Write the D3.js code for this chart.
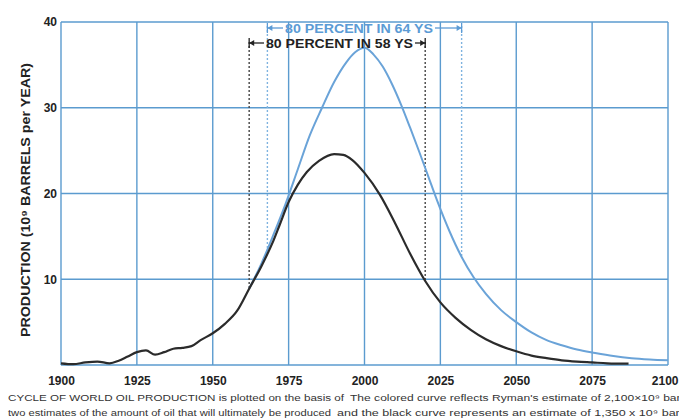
<!DOCTYPE html>
<html>
<head>
<meta charset="utf-8">
<script src="https://cdn.jsdelivr.net/npm/d3@7"></script>
<style>
  body { margin: 0; background: #fff; }
  svg { display: block; font-family: "Liberation Sans", Arial, sans-serif; }
</style>
</head>
<body>
<svg id="chart" width="679" height="419"></svg>
<script>
// black curve: history + estimate of 1,350 x 10^9 barrels
const blackYears = [1900, 1904, 1908, 1912, 1916, 1919, 1922, 1925, 1928, 1931, 1934, 1937, 1940, 1943, 1946,
  1950, 1954, 1958, 1962, 1966, 1970, 1972, 1975, 1978, 1981, 1985, 1990, 1993, 1996, 2000, 2005, 2010, 2015,
  2020, 2025, 2030, 2035, 2040, 2045, 2050, 2055, 2060, 2065, 2070, 2075, 2080, 2087];
const blackValues = [0.2, 0.1, 0.3, 0.4, 0.2, 0.5, 1.0, 1.5, 1.7, 1.2, 1.5, 1.9, 2.0, 2.2, 2.9,
  3.7, 4.8, 6.3, 8.9, 11.5, 14.5, 16.3, 19.0, 21.0, 22.5, 23.8, 24.6, 24.5, 23.9, 22.4, 19.9, 16.6, 13.0,
  9.8, 7.3, 5.5, 4.1, 3.0, 2.2, 1.6, 1.1, 0.8, 0.55, 0.4, 0.3, 0.2, 0.15];

// colored curve: Ryman's estimate of 2,100 x 10^9 barrels
const blueYears = [1962, 1966, 1970, 1974, 1978, 1982, 1986, 1990, 1994, 1997, 2000, 2003, 2006, 2009,
  2012, 2015, 2018, 2021, 2024, 2028, 2032, 2036, 2040, 2045, 2050, 2055, 2060, 2065, 2070, 2076,
  2082, 2088, 2094, 2100];
const blueValues = [8.9, 11.8, 15.2, 18.8, 22.8, 26.8, 30.0, 33.0, 35.3, 36.5, 37.0, 36.2, 34.8, 32.8,
  30.4, 27.7, 24.9, 22.0, 19.1, 15.6, 12.6, 10.2, 8.3, 6.4, 5.0, 3.8, 2.9, 2.3, 1.8, 1.4,
  1.05, 0.8, 0.65, 0.55];

const xTicks = [1900, 1925, 1950, 1975, 2000, 2025, 2050, 2075, 2100];
const yTicks = [10, 20, 30, 40];
const gridY = [0, 10, 20, 30, 40];

// 80 percent spans: [start, end, value at start, value at end]
const blackSpan = [1962, 2020, 8.9, 9.8];
const blueSpan = [1968, 2032, 13.5, 12.6];
const blackLabel = "80 PERCENT IN 58 YS";
const blueLabel = "80 PERCENT IN 64 YS";

const yTitle = "PRODUCTION (10\u2079 BARRELS per YEAR)";
const captionLeft = ["CYCLE OF WORLD OIL PRODUCTION is plotted on the basis of",
  "two estimates of the amount of oil that will ultimately be produced"];
const captionRight = ["The colored curve reflects Ryman's estimate of 2,100\u00d710\u2079 barrels",
  "and the black curve represents an estimate of 1,350 x 10\u2079 barrels"];

const svg = d3.select("#chart");
const gridColor = "#5b9bcf";
const blueColor = "#6aa3d8";

const x = d3.scaleLinear().domain([1900, 2100]).range([61, 668]);
const y = d3.scaleLinear().domain([0, 40]).range([365, 22]);

// grid
svg.append("g").selectAll("line").data(xTicks).join("line")
  .attr("x1", d => x(d)).attr("x2", d => x(d))
  .attr("y1", y(0)).attr("y2", y(40))
  .attr("stroke", gridColor).attr("stroke-width", 1.4);
svg.append("g").selectAll("line").data(gridY).join("line")
  .attr("x1", x(1900)).attr("x2", x(2100))
  .attr("y1", d => y(d)).attr("y2", d => y(d))
  .attr("stroke", gridColor).attr("stroke-width", 1.4);

// tick labels
const xAxis = svg.append("g")
  .attr("transform", `translate(0,${y(0)})`)
  .call(d3.axisBottom(x).tickValues(xTicks).tickFormat(d3.format("d")).tickSize(0).tickPadding(11));
xAxis.select(".domain").remove();
xAxis.selectAll("text").attr("font-size", 12).attr("font-weight", "bold")
  .attr("fill", "#222").attr("font-family", "Liberation Sans, Arial, sans-serif");
// last label sits against the page edge
xAxis.selectAll("text").filter(d => d === 2100).attr("text-anchor", "end").attr("dx", 10);

const yAxis = svg.append("g")
  .attr("transform", `translate(${x(1900)},0)`)
  .call(d3.axisLeft(y).tickValues(yTicks).tickSize(0).tickPadding(4));
yAxis.select(".domain").remove();
yAxis.selectAll("text").attr("font-size", 12).attr("font-weight", "bold")
  .attr("fill", "#222").attr("font-family", "Liberation Sans, Arial, sans-serif");

svg.append("text")
  .attr("transform", "translate(30,200) rotate(-90)")
  .attr("text-anchor", "middle")
  .attr("font-size", 12).attr("font-weight", "bold").attr("fill", "#222")
  .attr("textLength", 274).attr("lengthAdjust", "spacingAndGlyphs")
  .text(yTitle);

// dashed span markers
function spanLines(span, top, color) {
  svg.append("line").attr("x1", x(span[0])).attr("x2", x(span[0]))
    .attr("y1", top).attr("y2", y(span[2]))
    .attr("stroke", color).attr("stroke-width", 1.4).attr("stroke-dasharray", "2,2");
  svg.append("line").attr("x1", x(span[1])).attr("x2", x(span[1]))
    .attr("y1", top).attr("y2", y(span[3]))
    .attr("stroke", color).attr("stroke-width", 1.4).attr("stroke-dasharray", "2,2");
}
spanLines(blackSpan, 42, "#444");
spanLines(blueSpan, 26, "#7fb3e0");

// curves
const line = d3.line().curve(d3.curveMonotoneX).x(d => x(d[0])).y(d => y(d[1]));
svg.append("path").attr("d", line(d3.zip(blueYears, blueValues)))
  .attr("fill", "none").attr("stroke", blueColor).attr("stroke-width", 2);
svg.append("path").attr("d", line(d3.zip(blackYears, blackValues)))
  .attr("fill", "none").attr("stroke", "#2b2b2b").attr("stroke-width", 2.2);

// span labels with |<- ... ->| arrows
function spanLabel(span, yc, text, textStart, textEnd, color) {
  const g = svg.append("g");
  const x0 = x(span[0]), x1 = x(span[1]);
  g.append("text").attr("x", textStart).attr("y", yc + 4.5)
    .attr("font-size", 12).attr("font-weight", "bold").attr("fill", color)
    .attr("textLength", textEnd - textStart).attr("lengthAdjust", "spacingAndGlyphs")
    .text(text);
  [[x0, textStart - 2], [x1, textEnd + 2]].forEach(([tip, tail]) => {
    const dir = tip < tail ? 1 : -1;
    g.append("line").attr("x1", tip).attr("x2", tip).attr("y1", yc - 5).attr("y2", yc + 5)
      .attr("stroke", color).attr("stroke-width", 1.3);
    g.append("line").attr("x1", tip).attr("x2", tail).attr("y1", yc).attr("y2", yc)
      .attr("stroke", color).attr("stroke-width", 1.3);
    g.append("path").attr("d", `M${tip},${yc}l${dir * 5},-3l0,6z`).attr("fill", color);
  });
}
spanLabel(blueSpan, 28, blueLabel, 285, 433, "#5b9bd5");
spanLabel(blackSpan, 43, blackLabel, 266, 413, "#222");

// caption
const capX = [[8, 344], [8, 331]];
const capRX = [[350, 700], [337, 700]];
[398, 413].forEach((yy, i) => {
  svg.append("text").attr("x", capX[i][0]).attr("y", yy + 3)
    .attr("font-size", 8.5).attr("fill", "#333")
    .attr("textLength", capX[i][1] - capX[i][0]).attr("lengthAdjust", "spacingAndGlyphs")
    .text(captionLeft[i]);
  svg.append("text").attr("x", capRX[i][0]).attr("y", yy + 3)
    .attr("font-size", 8.5).attr("fill", "#333")
    .attr("textLength", capRX[i][1] - capRX[i][0]).attr("lengthAdjust", "spacingAndGlyphs")
    .text(captionRight[i]);
});
</script>
</body>
</html>
